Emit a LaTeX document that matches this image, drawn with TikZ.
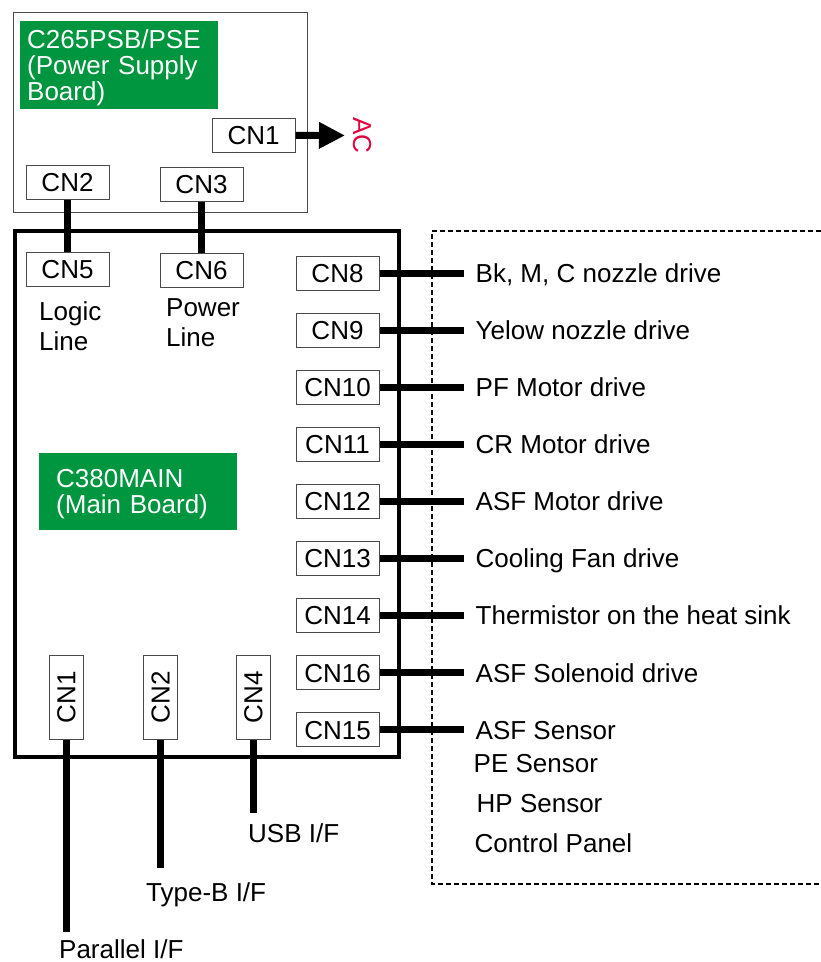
\documentclass[tikz,border=0pt]{standalone}
\usepackage{fontspec}
\setmainfont{Liberation Sans}
\usepackage{tikz}
\usetikzlibrary{positioning,arrows.meta}
\definecolor{pcbgreen}{HTML}{00963F}
\definecolor{acred}{HTML}{E2003C}
\definecolor{rim}{HTML}{4A4A4A}
\newcommand{\lblfont}{\fontsize{26}{30}\selectfont}
\tikzset{
  board/.style    = {rectangle, draw=#1, outer sep=0pt, inner sep=0pt, anchor=north west},
  conn/.style     = {rectangle, draw=rim, fill=white, line width=1pt, minimum width=83pt,
                     minimum height=34pt, inner sep=0pt, text height=18.6pt, text depth=0pt,
                     font=\lblfont},
  vconn/.style    = {conn, rotate=90, minimum width=84pt},
  tag/.style      = {rectangle, fill=pcbgreen, text=white, align=left, anchor=north west,
                     inner ysep=0pt, text height=18.6pt, font=\fontsize{26}{26}\selectfont},
  wire/.style     = {draw=black, line width=7pt},
  lbl/.style      = {font=\lblfont, inner ysep=0pt, inner xsep=12pt, text height=18.6pt,
                     text depth=0pt},
  note/.style     = {font=\lblfont, inner sep=0pt, align=left, anchor=north west,
                     text height=48.6pt, text depth=0pt},
  acmark/.style   = {font=\lblfont, text=acred, rotate=-90, inner sep=0pt,
                     text height=18.6pt, text depth=0pt},
  frame/.style    = {draw=black, line width=1.5pt, dash pattern=on 5pt off 3pt},
}

\begin{document}
\begin{tikzpicture}[x=1pt, y=-1pt]
  \useasboundingbox (0,0) rectangle (821,962);

  % power supply board
  \node[board=rim, line width=1pt, minimum width=294pt, minimum height=200pt] (psb) at (13,12) {};
  \node[tag, minimum width=198pt, minimum height=88pt, text width=184pt, inner xsep=7pt,
    text depth=52pt] (psbtag) at (20,21) {C265PSB/PSE\\(Power Supply\\Board)};
  \node[conn] (pcn1) at (253.7,135.3) {CN1};
  \node[conn] (pcn2) at (67.5,182) {CN2};
  \node[conn] (pcn3) at (201.5,184) {CN3};
  \node[acmark] (ac) at (362.5,135.5) {AC};
  \draw[wire, -{Triangle[length=26pt, width=25pt]}, shorten >=8pt] (pcn1.east) -- (ac.south);

  % device side
  \draw[frame] (821,231) -| (432,884) -- (821,884);

  % main board
  \node[board=black, line width=3.5pt, minimum width=384pt, minimum height=526pt] (main) at (15,231) {};
  \node[tag, minimum width=197.7pt, minimum height=77pt, text width=163.7pt, inner xsep=17pt,
    text depth=26pt] (maintag) at (39,452.3) {C380MAIN\\(Main Board)};
  \node[conn] (mcn5) at (67.5,269) {CN5};
  \node[conn] (mcn6) at (201.5,270) {CN6};
  \node[note] (logic) at (39,302) {Logic\\Line};
  \node[note] (power) at (166,298) {Power\\Line};
  \draw[wire] (pcn2) -- (mcn5);
  \draw[wire] (pcn3) -- (mcn6);

  \node[conn] (mcn8) at (337.5,273) {CN8};
  \node[conn, below=22.1pt of mcn8] (mcn9) {CN9};
  \node[conn, below=22.1pt of mcn9] (mcn10) {CN10};
  \node[conn, below=22.1pt of mcn10] (mcn11) {CN11};
  \node[conn, below=22.1pt of mcn11] (mcn12) {CN12};
  \node[conn, below=22.1pt of mcn12] (mcn13) {CN13};
  \node[conn, below=22.1pt of mcn13] (mcn14) {CN14};
  \node[conn, below=22.1pt of mcn14] (mcn16) {CN16};
  \node[conn, below=22.1pt of mcn16] (mcn15) {CN15};

  \node[lbl, right=84pt of mcn8] (l8) {Bk, M, C nozzle drive};
  \node[lbl, right=84pt of mcn9] (l9) {Yelow nozzle drive};
  \node[lbl, right=84pt of mcn10] (l10) {PF Motor drive};
  \node[lbl, right=84pt of mcn11] (l11) {CR Motor drive};
  \node[lbl, right=84pt of mcn12] (l12) {ASF Motor drive};
  \node[lbl, right=84pt of mcn13] (l13) {Cooling Fan drive};
  \node[lbl, right=84pt of mcn14] (l14) {Thermistor on the heat sink};
  \node[lbl, right=84pt of mcn16] (l16) {ASF Solenoid drive};
  \node[lbl, right=84pt of mcn15] (l15) {ASF Sensor};
  \node[lbl, below=14.8pt of l15.south west, anchor=north west, xshift=-2pt] (lpe) {PE Sensor};
  \node[lbl, below=20.4pt of lpe.south west, anchor=north west, xshift=3pt] (lhp) {HP Sensor};
  \node[lbl, below=21.4pt of lhp.south west, anchor=north west, xshift=-2pt] (lcp) {Control Panel};

  \draw[wire] (mcn8) -- (l8);
  \draw[wire] (mcn9) -- (l9);
  \draw[wire] (mcn10) -- (l10);
  \draw[wire] (mcn11) -- (l11);
  \draw[wire] (mcn12) -- (l12);
  \draw[wire] (mcn13) -- (l13);
  \draw[wire] (mcn14) -- (l14);
  \draw[wire] (mcn16) -- (l16);
  \draw[wire] (mcn15) -- (l15);

  % interfaces
  \node[vconn] (bcn1) at (66,697.3) {CN1};
  \node[vconn] (bcn2) at (160.3,697.3) {CN2};
  \node[vconn] (bcn4) at (253,697.3) {CN4};
  \node[lbl, anchor=north west, inner ysep=8pt, inner xsep=0pt] (lpar) at (59,932) {Parallel I/F};
  \node[lbl, anchor=north west, inner ysep=15pt, inner xsep=0pt] (ltypeb) at (146,868) {Type-B I/F};
  \node[lbl, anchor=north west, inner ysep=11pt, inner xsep=0pt] (lusb) at (248,813) {USB I/F};
  \draw[wire] (bcn1.west) -- (bcn1.west |- lpar.north);
  \draw[wire] (bcn2.west) -- (bcn2.west |- ltypeb.north);
  \draw[wire] (bcn4.west) -- (bcn4.west |- lusb.north);
\end{tikzpicture}
\end{document}
